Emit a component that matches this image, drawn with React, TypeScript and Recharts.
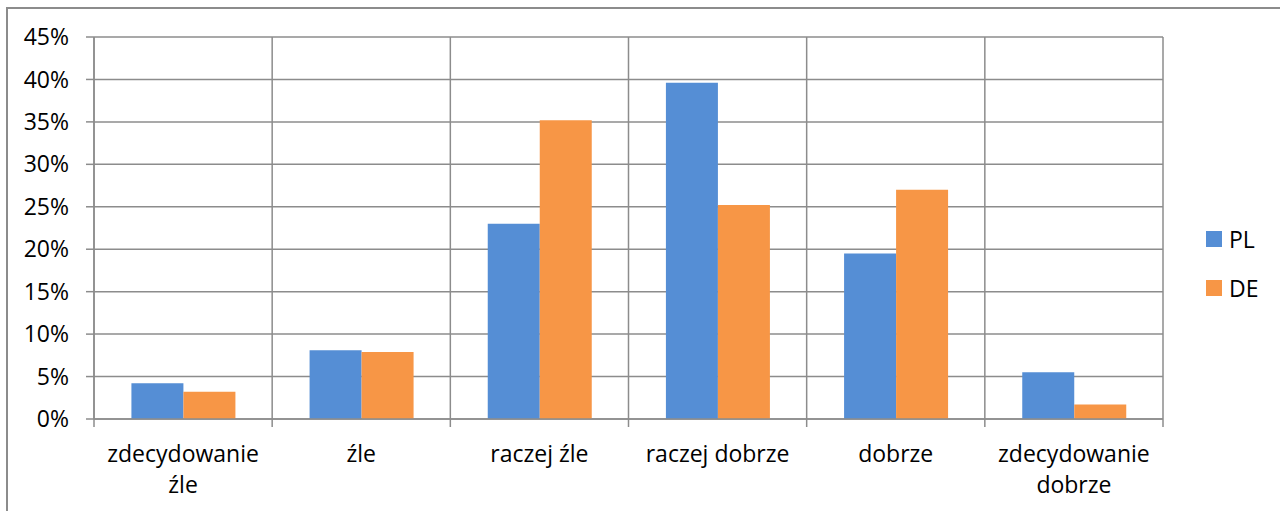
import React from "react";
import { BarChart, Bar, XAxis, YAxis, CartesianGrid, Legend } from "recharts";

const categories = [
  "zdecydowanie źle",
  "źle",
  "raczej źle",
  "raczej dobrze",
  "dobrze",
  "zdecydowanie dobrze",
];
const categoryLabelLines = [
  ["zdecydowanie", "źle"],
  ["źle"],
  ["raczej źle"],
  ["raczej dobrze"],
  ["dobrze"],
  ["zdecydowanie", "dobrze"],
];
const seriesNames = ["PL", "DE"];
const plValues = [0.042, 0.081, 0.23, 0.396, 0.195, 0.055];
const deValues = [0.032, 0.079, 0.352, 0.252, 0.27, 0.017];
const yTicks = [0, 0.05, 0.1, 0.15, 0.2, 0.25, 0.3, 0.35, 0.4, 0.45];

const data = categories.map((c, i) => ({ name: c, idx: i, PL: plValues[i], DE: deValues[i] }));
const boundaryTicks = [...categories.map((_, i) => i), categories.length];

const FONT = "'Open Sans', 'DejaVu Sans', sans-serif";
const FS = 23;
const GRID = "#8c8c8c";
const BLUE = "#558ED5";
const ORANGE = "#F79646";

const CatTick = (props: any) => {
  const { x, y, payload } = props;
  const i = categories.indexOf(payload.value);
  const lines = i >= 0 ? categoryLabelLines[i] : [String(payload.value)];
  return (
    <text x={x} y={y + 42} textAnchor="middle" fontFamily={FONT} fontSize={FS} fill="#000">
      {lines.map((l, k) => (
        <tspan key={k} x={x} dy={k === 0 ? 0 : 31}>
          {l}
        </tspan>
      ))}
    </text>
  );
};

const YTick = (props: any) => {
  const { x, y, payload } = props;
  return (
    <text
      x={x}
      y={y}
      dy="0.355em"
      textAnchor="end"
      fontFamily={FONT}
      fontSize={FS}
      fill="#000"
    >
      {`${Math.round(payload.value * 100)}%`}
    </text>
  );
};

const LegendContent = (props: any) => {
  const payload = [...(props.payload || [])].sort(
    (a: any, b: any) => seriesNames.indexOf(a.value) - seriesNames.indexOf(b.value)
  );
  return (
    <div style={{ fontFamily: FONT, fontSize: FS, color: "#000" }}>
      {payload.map((p: any, k: number) => (
        <div key={k} style={{ display: "flex", alignItems: "center", height: 49 }}>
          <div style={{ width: 16, height: 16, background: p.color, marginRight: 7 }} />
          <span style={{ lineHeight: "16px" }}>{p.value}</span>
        </div>
      ))}
    </div>
  );
};

export default function App() {
  return (
    <div style={{ position: "absolute", left: 0, top: 0, width: 1280, height: 511, overflow: "hidden", background: "#fff" }}>
      <div
        style={{
          position: "absolute",
          left: 6,
          top: 7,
          width: 1400,
          height: 600,
          borderLeft: "2px solid #8c8c8c",
          borderTop: "2px solid #8c8c8c",
        }}
      />
      <div style={{ position: "absolute", left: 0, top: 0 }}>
        <BarChart
          width={1280}
          height={511}
          data={data}
          margin={{ top: 37, right: 47, bottom: 0, left: 0 }}
          barCategoryGap="21%"
          barGap={0}
        >
          <CartesianGrid xAxisId={0} stroke={GRID} strokeWidth={1.5} />
          <XAxis
            xAxisId={0}
            type="number"
            dataKey="idx"
            domain={[0, categories.length]}
            ticks={boundaryTicks}
            tickFormatter={() => ""}
            axisLine={{ stroke: GRID, strokeWidth: 1.5 }}
            tickLine={{ stroke: GRID, strokeWidth: 1.5 }}
            tickSize={8}
            height={1}
            allowDataOverflow
          />
          <XAxis
            xAxisId={1}
            dataKey="name"
            type="category"
            axisLine={false}
            tickLine={false}
            tickSize={0}
            tickMargin={0}
            interval={0}
            height={91}
            tick={<CatTick />}
          />
          <YAxis
            width={94}
            domain={[0, 0.45]}
            ticks={yTicks}
            axisLine={{ stroke: GRID, strokeWidth: 1.5 }}
            tickLine={{ stroke: GRID, strokeWidth: 1.5 }}
            tickSize={8}
            tickMargin={17}
            tick={<YTick />}
            interval={0}
          />
          <Legend
            layout="horizontal"
            verticalAlign="middle"
            align="right"
            content={<LegendContent />}
            wrapperStyle={{ left: 1206, top: 214, width: 70 }}
          />
          <Bar xAxisId={1} dataKey="PL" name="PL" fill={BLUE} isAnimationActive={false} />
          <Bar xAxisId={1} dataKey="DE" name="DE" fill={ORANGE} isAnimationActive={false} />
        </BarChart>
      </div>
    </div>
  );
}
